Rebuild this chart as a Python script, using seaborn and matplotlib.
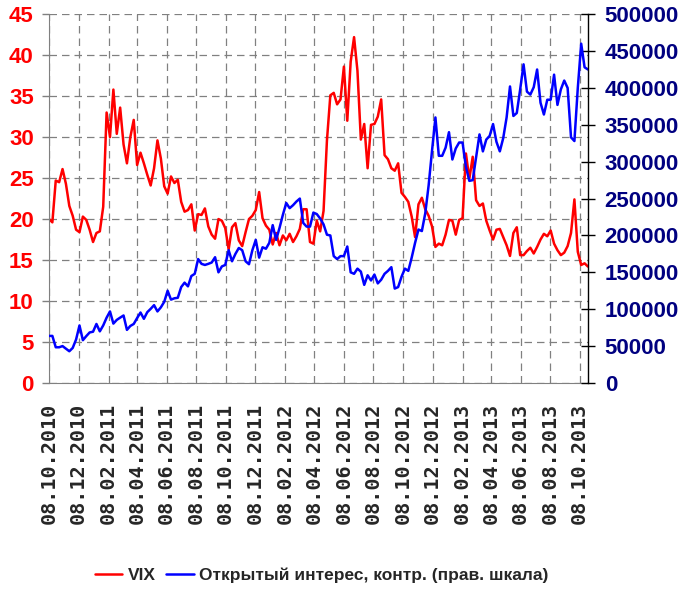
# VIX vs open interest, weekly, Oct 2010 - Oct 2013

import pandas as pd
import matplotlib
matplotlib.use("Agg")
import matplotlib.pyplot as plt
import matplotlib.dates as mdates
import seaborn as sns

# ==========================================
# Data (weekly)
# ==========================================

start_date = "2010-10-08"

vix = [
    20.0, 19.6, 24.7, 24.5, 26.1, 24.3, 21.6, 20.4, 18.7, 18.4,
    20.3, 19.9, 18.7, 17.2, 18.3, 18.5, 21.5, 33.0, 30.0, 35.8,
    30.4, 33.6, 29.1, 26.8, 30.0, 32.1, 26.6, 28.1, 26.8,
    25.4, 24.1, 26.2, 29.6, 27.4, 24.0, 23.1, 25.2, 24.4, 24.8,
    22.1, 20.9, 21.1, 21.8, 18.6, 20.6, 20.5, 21.3, 19.1, 18.1,
    17.6, 20.0, 19.8, 18.9, 16.3, 19.0, 19.5, 17.4,
    16.7, 18.4, 20.0, 20.4, 21.1, 23.3, 20.1, 19.2, 18.7, 16.9,
    18.3, 16.8, 18.0, 17.4, 18.2, 17.2, 17.9, 18.8, 21.2, 21.2,
    17.2, 17.0, 19.8, 18.5, 21.0, 29.6, 35.1, 35.4, 34.0, 34.6,
    38.6, 32.0, 39.2, 42.2, 38.1, 29.7, 31.6, 26.2, 31.5, 31.6,
    32.5, 34.6, 27.8, 27.3, 26.2, 25.9, 26.8, 23.2, 22.7, 22.1,
    20.3, 17.8, 21.8, 22.6, 21.2, 20.4, 19.1, 16.6, 17.0,
    16.8, 18.1, 19.9, 19.8, 18.1, 19.9, 20.1, 28.0, 24.9, 27.6,
    22.3, 21.6, 21.9, 19.8, 18.6, 17.5, 18.7, 18.8, 17.8, 16.8,
    15.5, 18.3, 19.0, 15.6, 15.6, 16.1, 16.5, 15.8, 16.6, 17.5,
    18.2, 17.9, 18.6, 17.0, 16.2, 15.6, 15.9, 16.7, 18.3, 22.4,
    16.0, 14.4, 14.6, 14.2,
]

# open interest, thousands of contracts
open_interest_k = [
    63.8, 63.8, 48.4, 48.4, 50, 46.5, 43, 47.5, 59, 78,
    58, 63.5, 68.5, 69.5, 80, 70, 78, 88.5, 97, 80.5,
    85.5, 88.6, 91.5, 72, 77.3, 80, 88, 95.5, 87,
    96, 100.5, 105.5, 97, 102.5, 110, 125, 113, 114.8, 115.5,
    130, 136, 131, 145, 148, 168, 161.5, 160, 161.5, 163.3,
    170.5, 150, 158, 160, 180, 165, 175, 183,
    180, 165, 161, 180, 194, 170, 184, 182, 190, 214,
    194, 210, 228, 244, 237, 241, 246, 250, 217, 212,
    212, 231, 229, 223, 215, 201, 200, 172, 168, 172,
    172, 185, 150, 148, 155, 151, 133, 146, 139, 147,
    135, 140, 148, 152, 157, 128, 130, 144, 155, 152,
    170, 190, 208, 206, 230, 268, 315, 360, 308,
    308, 319, 340, 303, 318, 326, 326, 293, 274, 275,
    306, 337, 314, 330, 335, 351, 327, 314, 332, 360,
    402, 362, 366, 398, 432, 395, 391, 401, 425, 380,
    364, 384, 384, 418, 377, 398, 410, 400, 333, 328,
    400, 460, 428, 425,
]

tick_labels = [
    "08.10.2010", "08.12.2010", "08.02.2011", "08.04.2011", "08.06.2011",
    "08.08.2011", "08.10.2011", "08.12.2011", "08.02.2012", "08.04.2012",
    "08.06.2012", "08.08.2012", "08.10.2012", "08.12.2012", "08.02.2013",
    "08.04.2013", "08.06.2013", "08.08.2013", "08.10.2013",
]

label_vix = "VIX"
label_oi = "Открытый интерес, контр. (прав. шкала)"

df = pd.DataFrame({
    "date": pd.date_range(start_date, periods=len(vix), freq="7D"),
    "vix": vix,
    "oi": [v * 1000 for v in open_interest_k],
})

tick_dates = pd.to_datetime(tick_labels, format="%d.%m.%Y")

# ==========================================
# Plot
# ==========================================

sns.set_style("white")
font = ["Liberation Sans", "DejaVu Sans"]
plt.rcParams["font.family"] = font

fig = plt.figure(figsize=(6.84, 5.91), dpi=100)
ax = fig.add_axes([0.0716, 0.352, 0.788, 0.624])
ax2 = ax.twinx()

sns.lineplot(data=df, x="date", y="vix", ax=ax, color="#ff0000",
             linewidth=1.8, label=label_vix, legend=False)
sns.lineplot(data=df, x="date", y="oi", ax=ax2, color="#0000ff",
             linewidth=1.8, label=label_oi, legend=False)

ax.set_xlim(df["date"].iloc[0], df["date"].iloc[-1])
ax.set_ylim(0, 45)
ax2.set_ylim(0, 500000)
ax.set_yticks(range(0, 46, 5))
ax2.set_yticks(range(0, 500001, 50000))

ax.set_xticks(tick_dates)
ax.xaxis.set_major_formatter(mdates.DateFormatter("%d.%m.%Y"))

ax.set_xlabel("")
ax.set_ylabel("")
ax2.set_ylabel("")

# grid
ax.grid(True, color="#808080", linestyle=(0, (6, 4)), linewidth=0.9)
ax.set_axisbelow(True)

# spines
for a in (ax, ax2):
    a.spines["top"].set_visible(False)
ax.spines["left"].set_color("#808080")
ax.spines["bottom"].set_color("#808080")
ax.spines["right"].set_visible(False)
ax2.spines["left"].set_visible(False)
ax2.spines["bottom"].set_visible(False)
ax2.spines["right"].set_color("#000000")
ax2.spines["right"].set_linewidth(1.0)

# ticks
ax.tick_params(axis="y", direction="out", length=5, width=1, color="#808080",
               pad=6, labelcolor="#ff0000", labelsize=16)
ax.tick_params(axis="x", direction="out", length=7, width=1, color="#808080",
               pad=7)
ax2.tick_params(axis="y", direction="inout", length=10, width=1,
                color="#000000", pad=7, labelcolor="#000080", labelsize=16)

for t in ax.get_yticklabels() + ax2.get_yticklabels():
    t.set_fontweight("bold")

for t in ax.get_xticklabels():
    t.set_rotation(90)
    t.set_fontsize(14.5)
    t.set_fontweight("bold")
    t.set_family(["DejaVu Sans Mono"])

# legend
handles = ax.get_lines()[:1] + ax2.get_lines()[:1]
fig.legend(handles, [label_vix, label_oi], loc="center",
           bbox_to_anchor=(0.47, 0.027), ncol=2, frameon=False,
           handlelength=1.6, handletextpad=0.3, columnspacing=0.6,
           prop={"family": font, "weight": "bold", "size": 12.5})

fig.savefig("out.png", dpi=100)
